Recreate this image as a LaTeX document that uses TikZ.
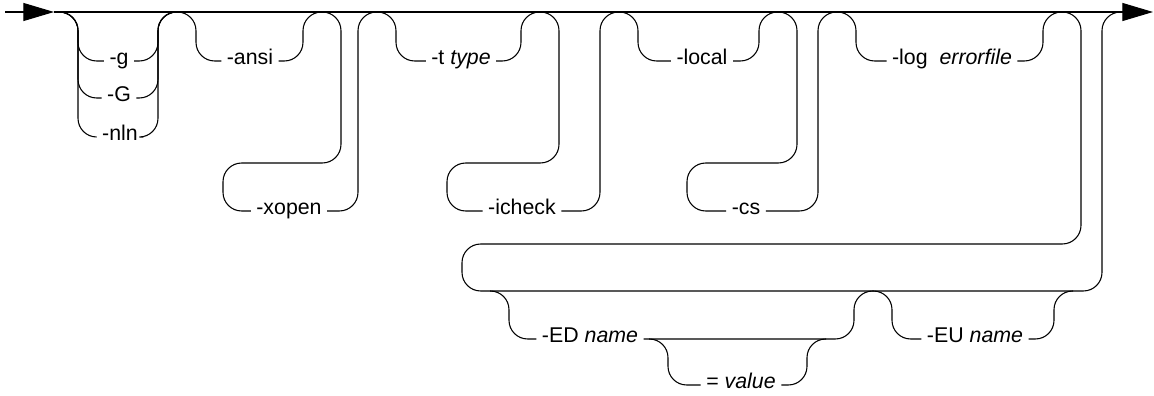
\documentclass[tikz,border=0pt]{standalone}
\usepackage{fontspec}
\setmainfont{Liberation Sans}
\usetikzlibrary{arrows.meta}

\begin{document}
\begin{tikzpicture}[x=0.75pt, y=-0.75pt,
  rail/.style={line width=0.8pt, rounded corners=14pt},
  railtip/.style={-{Triangle[length=23pt,width=13.5pt]}},
  item/.style={anchor=mid, inner xsep=4pt, inner ysep=1pt, font=\fontsize{16}{19}\selectfont}]

\useasboundingbox (0,0) rectangle (1154,396);

% --- layout helpers ---
\def\M{12}     % main line y
\def\Ru{163}   % upper run of a loop-back
\def\Lt{244}   % top of the return loop
\def\Lb{291}   % second line y
\def\rad{19}   % offset of a bend

% --- a small macro for an optional item: in, item, out
\newcommand{\optitem}[3]{%
  \draw[rail] (#1) -- ++(\rad,0) |- (#2.mid west);
  \draw[rail] (#3) -- ++(-\rad,0) |- (#2.mid east);
}
% --- same, but the item sits on a row reached by a loop-back: in, item, out, back x
\newcommand{\loopitem}[4]{%
  \draw[rail] (#1) -- ++(\rad,0) |- (#4,\Ru) |- (#2.mid west);
  \draw[rail] (#3) -- ++(-\rad,0) |- (#2.mid east);
}

% --- junctions ---
\coordinate (s0) at (5,\M);
\coordinate (a0) at (54,\M);
\coordinate (z0) at (1153,\M);
\coordinate (j1) at (59,\M);
\coordinate (j2) at (177,\M);
\coordinate (j3) at (322,\M);
\coordinate (j4) at (377,\M);
\coordinate (j5) at (540,\M);
\coordinate (j6) at (619,\M);
\coordinate (j7) at (778,\M);
\coordinate (j8) at (837,\M);
\coordinate (j9) at (1062,\M);
\coordinate (j10) at (1121,\M);
\coordinate (k1) at (490,\Lb);
\coordinate (k2) at (873,\Lb);
\coordinate (k3) at (1073,\Lb);
\coordinate (k4) at (649,339);
\coordinate (k5) at (826,339);

% --- main line ---
\draw[rail, railtip] (s0) -- (a0);
\draw[rail, railtip] (a0) -- (z0);

% --- items ---
\node[item] (g) at (119,61) {-g};
\node[item] (G) at (119,98) {-G};
\node[item] (nln) at (120,137) {-nln};
\node[item] (ansi) at (250,61) {-ansi};
\node[item] (xopen) at (289,211) {-xopen};
\node[item] (ttype) at (461,61) {-t \textit{type}};
\node[item] (icheck) at (522,211) {-icheck};
\node[item] (local) at (702,61) {-local};
\node[item] (cs) at (746,211) {-cs};
\node[item] (logf) at (952,61) {-log\ \ \textit{errorfile}};
\node[item] (edname) at (590,339) {-ED \textit{name}};
\node[item] (value) at (741,385) {= \textit{value}};
\node[item] (euname) at (975,339) {-EU \textit{name}};

% --- first line ---
\optitem{j1}{g}{j2}
\optitem{j1}{G}{j2}
\optitem{j1}{nln}{j2}
\optitem{j2}{ansi}{j3}
\loopitem{j3}{xopen}{j4}{223}
\optitem{j4}{ttype}{j5}
\loopitem{j5}{icheck}{j6}{447}
\optitem{j6}{local}{j7}
\loopitem{j7}{cs}{j8}{687}
\optitem{j8}{logf}{j9}

% --- return to the second line and back up ---
\draw[rail] (j9) -- ++(\rad,0) |- (462,\Lt) |- (1102,\Lb) |- (j10);

% --- second line ---
\optitem{k1}{edname}{k2}
\optitem{k4}{value}{k5}
\optitem{k2}{euname}{k3}

\end{tikzpicture}
\end{document}
